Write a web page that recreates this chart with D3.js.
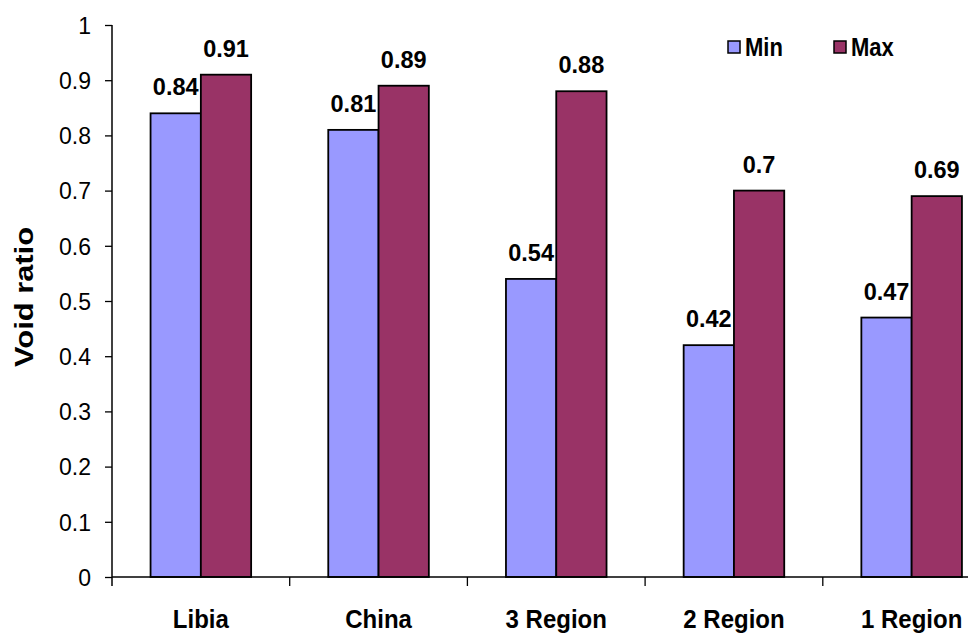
<!DOCTYPE html>
<html><head><meta charset="utf-8">
<script src="https://cdn.jsdelivr.net/npm/d3@7"></script>
<style>html,body{margin:0;padding:0;background:#fff;overflow:hidden}svg{display:block;font-family:Arial,"Liberation Sans",sans-serif}</style>
</head><body>
<script>
const categories = ["Libia", "China", "3 Region", "2 Region", "1 Region"];
const seriesNames = ["Min", "Max"];
const minValues = [0.84, 0.81, 0.54, 0.42, 0.47];
const maxValues = [0.91, 0.89, 0.88, 0.70, 0.69];
const yTicks = [0, 0.1, 0.2, 0.3, 0.4, 0.5, 0.6, 0.7, 0.8, 0.9, 1];
const yTickLabels = ["0", "0.1", "0.2", "0.3", "0.4", "0.5", "0.6", "0.7", "0.8", "0.9", "1"];
const colors = ["#9999FF", "#993366"];

const W = 968, H = 635;
const svg = d3.select("body").append("svg").attr("width", W).attr("height", H);

const x0 = d3.scaleBand().domain(categories).range([112, 1000.5]).paddingInner(0.434).paddingOuter(0.217);
const x1 = d3.scaleBand().domain(seriesNames).range([0, x0.bandwidth()]);
const y = d3.scaleLinear().domain([0, 1]).range([577, 25]);

const data = categories.map((c, i) => ({cat: c, vals: [minValues[i], maxValues[i]]}));

// bars
const g = svg.append("g");
data.forEach(d => {
  d.vals.forEach((v, j) => {
    g.append("rect")
      .attr("x", x0(d.cat) + x1(seriesNames[j]))
      .attr("y", y(v))
      .attr("width", x1.bandwidth())
      .attr("height", y(0) - y(v))
      .attr("fill", colors[j])
      .attr("stroke", "#000").attr("stroke-width", 1.8);
    g.append("text")
      .attr("transform", `translate(${x0(d.cat) + x1(seriesNames[j]) + x1.bandwidth() / 2},${y(v) - 18}) scale(1,1.05)`)
      .attr("text-anchor", "middle")
      .attr("font-size", 23.5).attr("font-weight", "bold")
      .text(String(v));
  });
});

// y axis
const yAxis = d3.axisLeft(y).tickValues(yTicks).tickFormat((d, i) => yTickLabels[i]).tickSize(7).tickPadding(14);
const ya = svg.append("g").attr("transform", "translate(112,0)").call(yAxis);
ya.select(".domain").attr("d", "M0,25V586").attr("stroke", "#000").attr("stroke-width", 1.5);
ya.selectAll(".tick line").attr("stroke", "#000").attr("stroke-width", 1.3);
ya.selectAll(".tick text").attr("font-size", 23).attr("font-family", "Arial, 'Liberation Sans', sans-serif").attr("fill", "#000").attr("dy", "0.36em");

// x axis
svg.append("line").attr("x1", 112).attr("x2", W).attr("y1", y(0)).attr("y2", y(0)).attr("stroke", "#000").attr("stroke-width", 1.5);
const boundaries = d3.range(1, categories.length + 1).map(i => 112 + i * x0.step());
svg.selectAll(".xt").data(boundaries).enter().append("line")
  .attr("x1", d => d).attr("x2", d => d).attr("y1", y(0)).attr("y2", y(0) + 9)
  .attr("stroke", "#000").attr("stroke-width", 1.3);
svg.selectAll(".xl").data(categories).enter().append("text")
  .attr("transform", d => `translate(${x0(d) + x0.bandwidth() / 2},628) scale(1,1.08)`)
  .attr("text-anchor", "middle")
  .attr("font-size", 24).attr("font-weight", "bold")
  .text(d => d);

// y title
svg.append("text")
  .attr("transform", "translate(33,297) rotate(-90)")
  .attr("text-anchor", "middle")
  .attr("font-size", 25).attr("font-weight", "bold")
  .attr("textLength", 140).attr("lengthAdjust", "spacingAndGlyphs")
  .text("Void ratio");

// legend
const legX = [728, 834];
seriesNames.forEach((s, j) => {
  svg.append("rect").attr("x", legX[j]).attr("y", 41).attr("width", 12).attr("height", 12)
    .attr("fill", colors[j]).attr("stroke", "#000").attr("stroke-width", 1.5);
  svg.append("text").attr("transform", `translate(${legX[j] + 17},55.5) scale(1,1.14)`)
    .attr("font-size", 22).attr("font-weight", "bold").text(s);
});
</script>
</body></html>
